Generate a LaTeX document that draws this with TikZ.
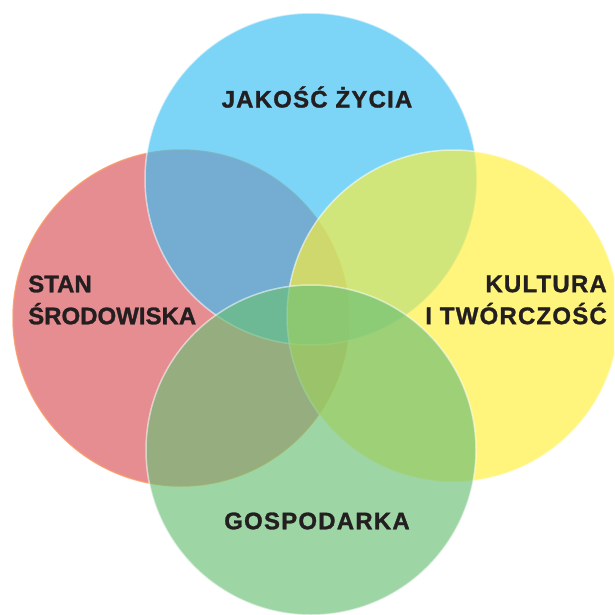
\documentclass[tikz,border=0pt]{standalone}
\usepackage{fontspec}
\setmainfont{Liberation Sans}
\newfontfamily\labelfont[LetterSpace=5,FakeBold=1.2]{Liberation Sans Bold}
\newfontfamily\labelfontnarrow[LetterSpace=0,FakeBold=1.2]{Liberation Sans Bold}
\usetikzlibrary{positioning}
\definecolor{jakosc}{RGB}{55,191,243}
\definecolor{stan}{RGB}{217,81,88}
\definecolor{kultura}{RGB}{255,240,55}
\definecolor{gosp}{RGB}{106,191,117}
\definecolor{rimorange}{RGB}{250,150,100}
\definecolor{labeltext}{RGB}{35,31,32}
\tikzset{
  area/.style={fill opacity=0.65,draw opacity=0.55,line width=1.5pt},
  caption/.style={font=\labelfont\fontsize{24}{32}\selectfont,text=labeltext,inner sep=0pt}
}
\begin{document}
\begin{tikzpicture}[x=1pt,y=-1pt]
    \clip (0,0) rectangle (614,615);
    \fill[white] (0,0) rectangle (614,615);
    % the four fields
    \filldraw[area,fill=stan,draw=rimorange,draw opacity=0.8] (181,318) circle (168pt);
    \filldraw[area,fill=jakosc,draw=white] (311,179) circle (166pt);
    \filldraw[area,fill=kultura,draw=white] (453,316) circle (166pt);
    \filldraw[area,fill=gosp,draw=white] (311,450) circle (165pt);
    % labels
    \node (jakosc) [caption] at (317,97) {JAKOŚĆ ŻYCIA};
    \node (stan) [caption,font=\labelfontnarrow\fontsize{24}{32}\selectfont,align=left,anchor=west] at (28,300) {STAN\\ŚRODOWISKA};
    \node (kultura) [caption,align=right,anchor=east] at (607,300) {KULTURA\\I TWÓRCZOŚĆ};
    \node (gosp) [caption] at (317,521) {GOSPODARKA};
  \end{tikzpicture}
\end{document}
